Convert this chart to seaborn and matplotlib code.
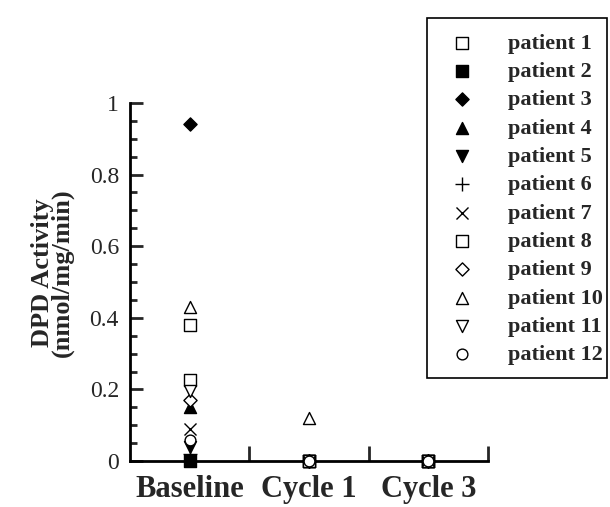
import numpy as np
import pandas as pd
import seaborn as sns
import matplotlib.pyplot as plt
from matplotlib.ticker import FixedLocator
from matplotlib.patches import Rectangle

# Data
timepoints = ["Baseline", "Cycle 1", "Cycle 3"]
patients = ["patient %d" % i for i in range(1, 13)]
baseline = [0.38, 0.0, 0.94, 0.15, 0.04, 0.02, 0.09, 0.225, 0.17, 0.43, 0.195, 0.06]
cycle1 = [0.0, 0.0, 0.0, 0.0, 0.0, 0.0, 0.0, 0.0, 0.0, 0.12, 0.0, 0.0]
cycle3 = [0.0] * 12

yticks = [0, 0.2, 0.4, 0.6, 0.8, 1]
ytick_labels = ["0", "0.2", "0.4", "0.6", "0.8", "1"]

markers = ["s", "s", "D", "^", "v", "+", "x", "s", "D", "^", "v", "o"]
filled = [False, True, True, True, True, None, None, False, False, False, False, False]
sizes = [75, 75, 45, 75, 75, 90, 75, 75, 45, 75, 75, 60]

df = pd.DataFrame({
    "patient": patients * 3,
    "time": [t for t in timepoints for _ in patients],
    "DPD": baseline + cycle1 + cycle3,
})
df["x"] = df["time"].map({t: k for k, t in enumerate(timepoints)})

sns.set_style("white")
plt.rcParams["font.family"] = ["Liberation Serif", "DejaVu Serif"]

fig = plt.figure(figsize=(6.1, 5.07), dpi=100)
ax = fig.add_axes([130 / 610, 1 - 461 / 507, 358 / 610, 358 / 507])

for i, p in enumerate(patients):
    sub = df[df["patient"] == p]
    if filled[i] is None:
        kw = dict(color="black", linewidth=1.0)
    elif filled[i]:
        kw = dict(facecolor="black", edgecolor="black", linewidth=1.0)
    else:
        kw = dict(facecolor="white", edgecolor="black", linewidth=1.0)
    sns.scatterplot(data=sub, x="x", y="DPD", marker=markers[i], s=sizes[i],
                    ax=ax, clip_on=False, zorder=3 + i * 0.01, label=p, legend=False, **kw)

ax.set_xlim(-0.5, 2.5)
ax.set_ylim(0, 1)
sns.despine(ax=ax)
for s in ["left", "bottom"]:
    ax.spines[s].set_linewidth(2)
    ax.spines[s].set_color("black")

ax.set_yticks(yticks)
ax.set_yticklabels(ytick_labels)
ax.yaxis.set_minor_locator(FixedLocator(np.arange(0.05, 1.0, 0.05)))
ax.tick_params(axis="y", which="major", direction="in", length=9, width=2, labelsize=17, pad=8, left=True)
ax.tick_params(axis="y", which="minor", direction="in", length=5, width=2, left=True)

ax.set_xticks([0, 1, 2])
ax.set_xticklabels(timepoints, fontweight="bold", fontsize=22)
ax.xaxis.set_minor_locator(FixedLocator([0.5, 1.5, 2.5]))
ax.tick_params(axis="x", which="major", length=0, pad=10)
ax.tick_params(axis="x", which="minor", direction="in", length=11, width=2, bottom=True)

ax.set_xlabel("")
ax.set_ylabel("DPD Activity\n(nmol/mg/min)", fontweight="bold", fontsize=19, linespacing=0.82)
ax.yaxis.set_label_coords(-0.156, 0.525)

# legend: frame drawn separately, entries placed inside it
fig.patches.append(Rectangle((427 / 610, 1 - 378 / 507), 180 / 610, 360 / 507,
                             transform=fig.transFigure, facecolor="none",
                             edgecolor="black", linewidth=1.2))
handles, labels = ax.get_legend_handles_labels()
leg = fig.legend(handles, labels, loc="upper left", bbox_to_anchor=(444 / 610, 1 - 33 / 507),
                 bbox_transform=fig.transFigure, frameon=False,
                 prop={"weight": "bold", "size": 16}, labelspacing=0.35, handletextpad=1.28,
                 borderpad=0, handlelength=1.6, borderaxespad=0)

fig.savefig("out.png", dpi=100)
